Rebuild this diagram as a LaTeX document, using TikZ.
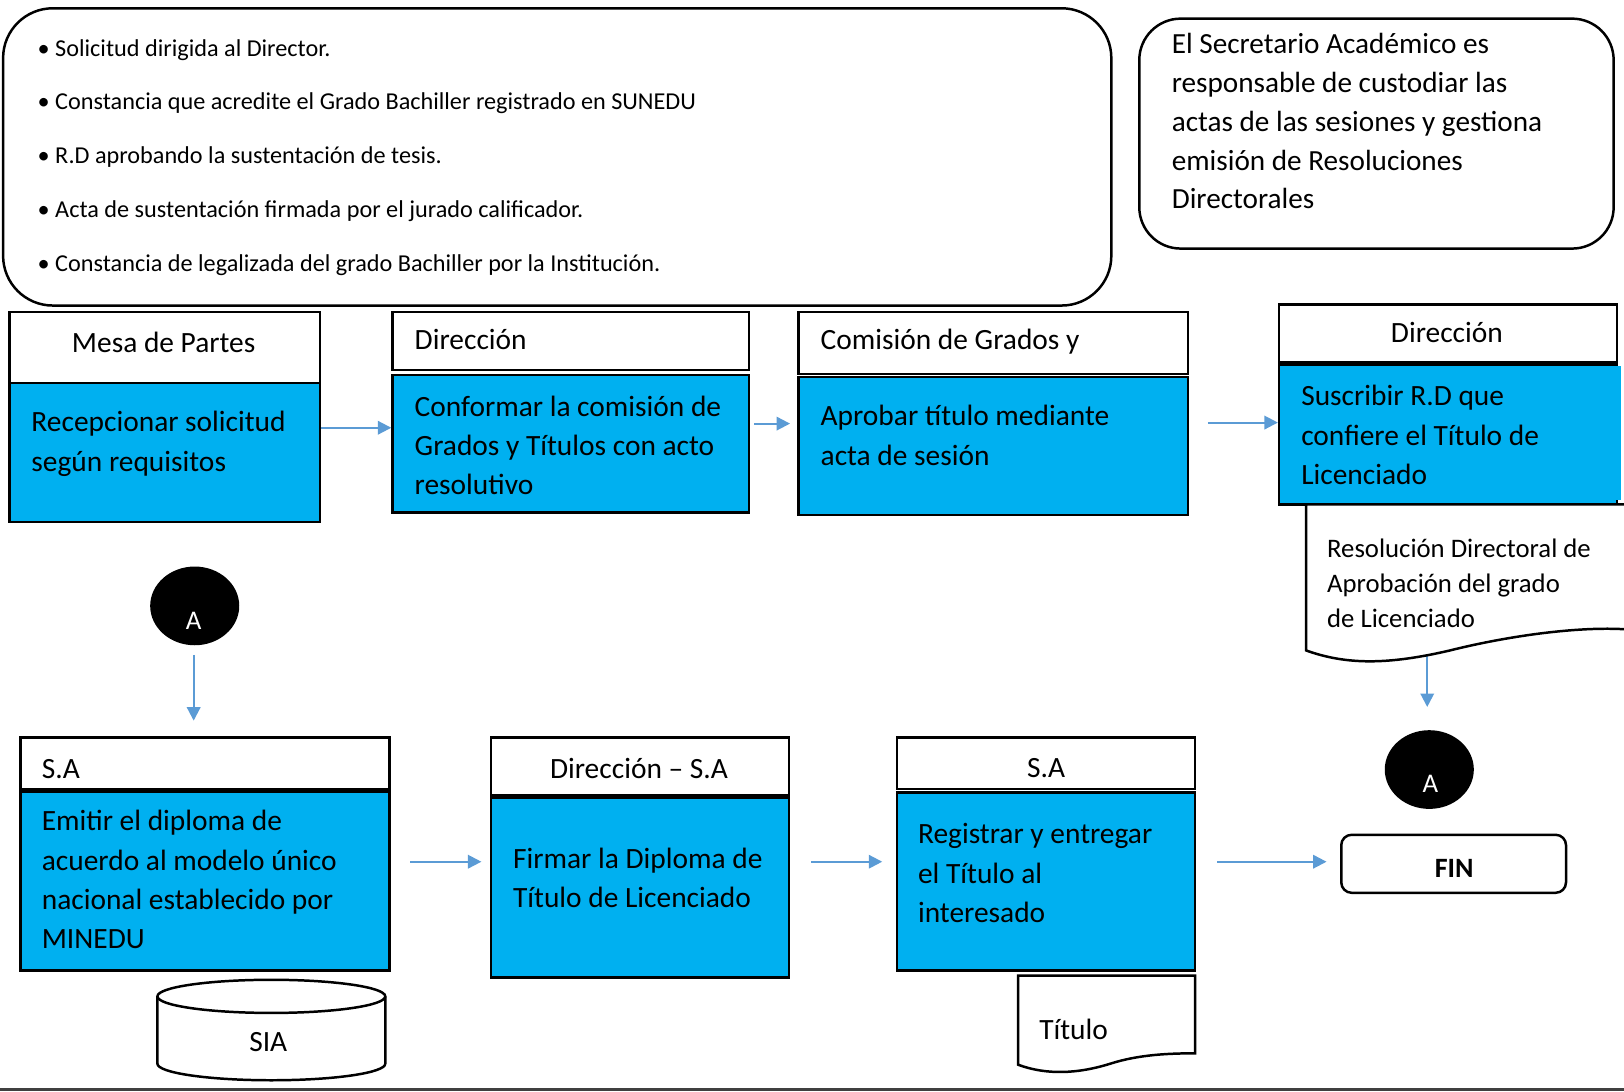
\documentclass[tikz,border=0pt]{standalone}
\usepackage{fontspec}
\setmainfont{Carlito}
\usetikzlibrary{arrows.meta,shapes.geometric,fit,calc}
\definecolor{cyanfill}{HTML}{00B0F0}
\definecolor{arrblue}{HTML}{5B9BD5}
\begin{document}
\begin{tikzpicture}[x=0.5pt,y=-0.5pt,
  frame/.style={draw=black, line width=1.2pt, inner sep=0pt},
  hdr/.style={frame, fill=white},
  act/.style={frame, fill=cyanfill},
  bodytxt/.style={anchor=west, align=left, inner sep=0pt, font=\fontsize{14.2}{19}\selectfont},
  hdrtxt/.style={inner sep=0pt, font=\fontsize{14.2}{17}\selectfont},
  conn/.style={draw=arrblue, line width=1pt, -{Triangle[length=6.5pt,width=6.5pt]}},
  conncircle/.style={ellipse, fill=black, minimum width=43pt, minimum height=38pt, inner sep=0pt},
  doc/.style={draw=black, line width=1.2pt, fill=white}
]
\useasboundingbox (0,0) rectangle (1568,1054);

% top notes
\node[frame, rounded corners=24pt, fit={(3,8) (1073,295)}] (req) {};
\node[anchor=west, align=left, inner sep=0pt, font=\fontsize{11.7}{26}\selectfont] (reqtxt) at (36,152)
  {\textbullet{} Solicitud dirigida al Director.\\
   \textbullet{} Constancia que acredite el Grado Bachiller registrado en SUNEDU\\
   \textbullet{} R.D aprobando la sustentación de tesis.\\
   \textbullet{} Acta de sustentación firmada por el jurado calificador.\\
   \textbullet{} Constancia de legalizada del grado Bachiller por la Institución.};
\node[frame, rounded corners=20pt, fit={(1100,18) (1558,240)}] (sec) {};
\node[anchor=west, align=left, inner sep=0pt, font=\fontsize{14.1}{18.75}\selectfont] (sectxt) at (1131,117)
  {El Secretario Académico es\\responsable de custodiar las\\actas de las sesiones y gestiona\\emisión de Resoluciones\\Directorales};

% row 1
\node[hdr, fit={(9,301) (309,370)}] (h1) {};
\node[hdrtxt] (h1t) at (158,331) {Mesa de Partes};
\node[act, fit={(9,370) (309,504)}] (b1) {};
\node[bodytxt] (b1t) at (30,428.5) {Recepcionar solicitud\\según requisitos};

\node[hdr, fit={(379,301) (723,357)}] (h2) {};
\node[hdrtxt, anchor=west] (h2t) at (400,328) {Dirección};
\node[act, fit={(379,362) (723,495)}] (b2) {};
\node[bodytxt] (b2t) at (400,430) {Conformar la comisión de\\Grados y Títulos con acto\\resolutivo};

\node[hdr, fit={(771,301) (1147,361)}] (h3) {};
\node[hdrtxt, anchor=west] (h3t) at (792,330) {Comisión de Grados y};
\node[act, fit={(771,364) (1147,497)}] (b3) {};
\node[bodytxt] (b3t) at (792,420.5) {Aprobar título mediante\\acta de sesión};

\node[hdr, fit={(1235,294) (1561,350)}] (h4) {};
\node[hdrtxt] (h4t) at (1397,321) {Dirección};
\node[act, fit={(1235,352) (1561,487)}] (b4) {};
\fill[cyanfill] (1559,353) rectangle (1565,483);
\node[bodytxt] (b4t) at (1256,420) {Suscribir R.D que\\confiere el Título de\\Licenciado};

% connector A (right)
\node[conncircle] (a2) at (1380,743) {};
\node[text=white, inner sep=0pt, font=\fontsize{13}{15}\selectfont] (a2t) at (1381,757) {A};
\draw[conn, shorten >=11pt] (b4.south -| 1378,0) -- (a2.north -| 1378,0);

% document RD
\path[doc] (1261,487) -- (1261,628)
  .. controls (1300,642) and (1340,642) .. (1400,628)
  .. controls (1460,613) and (1530,604) .. (1575,608)
  -- (1575,487) -- cycle;
\node[anchor=west, align=left, inner sep=0pt, font=\fontsize{12.9}{17}\selectfont] (rdt) at (1281,563)
  {Resolución Directoral de\\Aprobación del grado\\de Licenciado};

% row 1 arrows
\draw[conn] (b1.east |- 0,413) -- (b2.west |- 0,413);
\draw[conn, shorten <=2pt, shorten >=3.5pt] (b2.east |- 0,409) -- (b3.west |- 0,409);
\draw[conn, shorten <=9pt] (b3.east |- 0,408) -- (b4.west |- 0,408);

% connector A (left)
\node[conncircle] (a1) at (188,585) {};
\node[text=white, inner sep=0pt, font=\fontsize{13}{15}\selectfont] (a1t) at (187,599) {A};

% row 2
\node[hdr, fit={(20,712) (376,762)}] (h5) {};
\node[hdrtxt, anchor=west] (h5t) at (40,743) {S.A};
\node[act, fit={(20,764) (376,937)}] (b5) {};
\node[bodytxt] (b5t) at (40,849.5) {Emitir el diploma de\\acuerdo al modelo único\\nacional establecido por\\MINEDU};

\draw[conn, shorten <=4.5pt, shorten >=7.5pt] (a1.south -| 187,0) -- (h5.north -| 187,0);

% SIA cylinder
\path[doc] (152,962) -- (152,1027) arc[start angle=180, end angle=0, x radius=110, y radius=16]
  -- (372,962) arc[start angle=0, end angle=-180, x radius=110, y radius=16] -- cycle;
\draw[black, line width=1.2pt] (152,962) arc[start angle=180, end angle=0, x radius=110, y radius=16];
\node[hdrtxt] (sia) at (259,1006) {SIA};

\node[hdr, fit={(474,712) (762,768)}] (h6) {};
\node[hdrtxt] (h6t) at (617,742) {Dirección – S.A};
\node[act, fit={(474,770) (762,944)}] (b6) {};
\node[bodytxt] (b6t) at (495,847.5) {Firmar la Diploma de\\Título de Licenciado};

\node[hdr, fit={(866,712) (1154,762)}] (h7) {};
\node[hdrtxt] (h7t) at (1010,742) {S.A};
\node[act, fit={(866,765) (1154,937)}] (b7) {};
\node[bodytxt] (b7t) at (886,843) {Registrar y entregar\\el Título al\\interesado};

% Titulo document
\path[doc] (983,942) -- (983,1028)
  .. controls (1010,1038) and (1040,1037) .. (1072,1027)
  .. controls (1100,1018) and (1130,1017) .. (1154,1017)
  -- (1154,942) -- cycle;
\node[hdrtxt, anchor=west] (titt) at (1003,994) {Título};

% FIN
\node[frame, rounded corners=5pt, fit={(1295,806) (1512,862)}] (fin) {};
\node[inner sep=0pt, font=\bfseries\fontsize{13.5}{16}\selectfont] (fint) at (1404,838) {FIN};

% row 2 arrows
\draw[conn, shorten <=9.5pt, shorten >=4pt] (b5.east |- 0,832) -- (b6.west |- 0,832);
\draw[conn, shorten <=10pt, shorten >=6.5pt] (b6.east |- 0,832) -- (b7.west |- 0,832);
\draw[conn, shorten <=10pt, shorten >=6.5pt] (b7.east |- 0,832) -- (fin.west |- 0,832);

% bottom rule
\draw[black!75, line width=1.5pt] (0,1052) -- (1568,1052);
\end{tikzpicture}
\end{document}
